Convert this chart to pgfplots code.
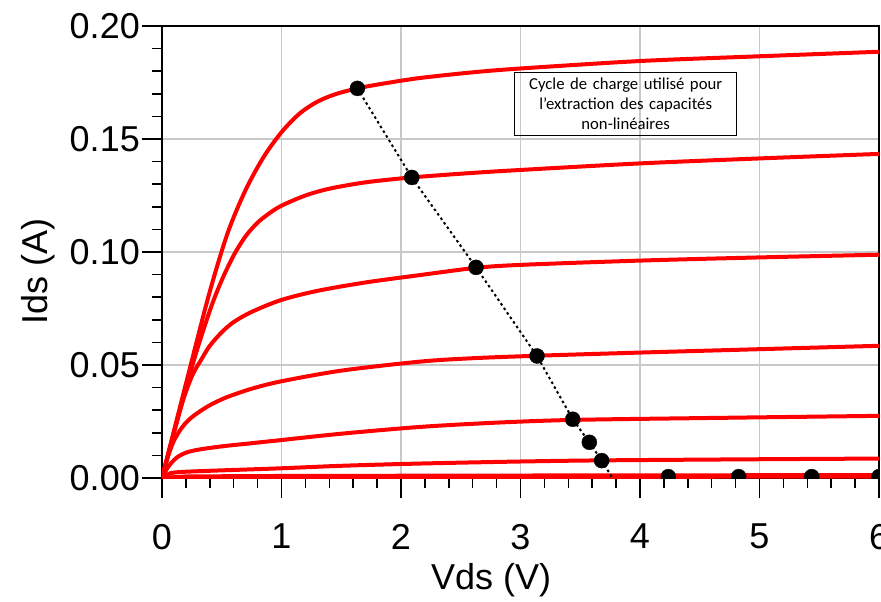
\documentclass[border=0pt]{standalone}
\usepackage{pgfplots}
\pgfplotsset{compat=1.18}
\usepackage{fontspec}
\setmainfont{Liberation Sans}
\newfontfamily\boxfont{Carlito}
\definecolor{gridgray}{RGB}{200,200,200}
\begin{document}
\begin{tikzpicture}
\begin{axis}[
  name=ax,
  scale only axis,
  width=717pt, height=452pt,
  xmin=0, xmax=6, ymin=0, ymax=0.2,
  xtick={0,1,2,3,4,5,6},
  xticklabels={0,1,2,3,4,5,6},
  ytick={0,0.05,0.10,0.15,0.20},
  yticklabels={0.00,0.05,0.10,0.15,0.20},
  minor x tick num=4,
  minor y tick num=4,
  tick align=outside,
  tick pos=left,
  major tick length=20pt,
  minor tick length=10pt,
  every tick/.style={black, line width=1.5pt},
  axis line style={black, line width=1.8pt},
  grid=major,
  major grid style={gridgray, line width=1.5pt},
  tick label style={font=\fontsize{36}{36}\selectfont, inner sep=2pt},
  xticklabel style={yshift=-24pt},
  xlabel={Vds (V)},
  ylabel={Ids (A)},
  label style={font=\fontsize{36}{36}\selectfont},
  xlabel style={at={(axis description cs:0.459,-0.2257)}, anchor=center},
  ylabel style={at={(axis description cs:-0.173,0.456)}, anchor=center, rotate=0},
  clip=true,
]
% thick near-zero curves
\addplot[red, line width=4pt] coordinates {(0,0) (0.2,0.0003) (1,0.0004) (3,0.0005) (6,0.0006)};
\addplot[red, line width=4pt] coordinates {(0,0) (0.2,0.0007) (1,0.0009) (3,0.0011) (6,0.0013)};
% sixth
\addplot[red, line width=4pt, smooth] coordinates {
(0,0) (0.04,0.0014) (0.1,0.0024) (0.3,0.0030) (1,0.0043) (1.5,0.0054) (2.16,0.0064) (3,0.0073) (3.68,0.0078) (5,0.0083) (6,0.0086)};
% fifth
\addplot[red, line width=4pt, smooth] coordinates {
(0,0) (0.04,0.0040) (0.08,0.0068) (0.13,0.0093) (0.2,0.0112) (0.3,0.0125) (0.5,0.0140) (0.75,0.0154) (1.0,0.0168) (1.5,0.0196) (2.16,0.0226) (2.8,0.0245) (3.44,0.0257) (4.5,0.0265) (6,0.0275)};
% fourth
\addplot[red, line width=4pt, smooth] coordinates {
(0,0) (0.05,0.0095) (0.1,0.0165) (0.165,0.0222) (0.22,0.0255) (0.29,0.0285) (0.4,0.0322) (0.54,0.0357) (0.75,0.0395) (1.0,0.0428) (1.5,0.0475) (2.16,0.0515) (2.6,0.0530) (3.14,0.0541) (4,0.0555) (5,0.0570) (6,0.0585)};
% third
\addplot[red, line width=4pt, smooth] coordinates {
(0,0) (0.15,0.0300) (0.25,0.0450) (0.33,0.0525) (0.4,0.0585) (0.5,0.0645) (0.6,0.0690) (0.75,0.0735) (1.0,0.0788) (1.3,0.0828) (1.7,0.0865) (2.16,0.0898) (2.63,0.0930) (3,0.0943) (4,0.0962) (5,0.0976) (6,0.0988)};
% second
\addplot[red, line width=4pt, smooth] coordinates {
(0,0) (0.25,0.0490) (0.4,0.0740) (0.5,0.0875) (0.6,0.0985) (0.7,0.1070) (0.8,0.1130) (0.9,0.1172) (1.0,0.1205) (1.2,0.1250) (1.4,0.1280) (1.7,0.1308) (2.09,0.1330) (2.6,0.1350) (3,0.1363) (4,0.1392) (5,0.1414) (6,0.1434)};
% top
\addplot[red, line width=4pt, smooth] coordinates {
(0,0) (0.25,0.0520) (0.4,0.0825) (0.55,0.1085) (0.7,0.1275) (0.85,0.1420) (1.0,0.1530) (1.15,0.1612) (1.3,0.1665) (1.45,0.1698) (1.635,0.1724) (1.85,0.1745) (2.16,0.1770) (2.6,0.1795) (3,0.1812) (4,0.1845) (5,0.1866) (6,0.1886)};
% load line
\addplot[black, line width=2pt, dash pattern=on 2.5pt off 3pt] coordinates {
(1.635,0.1724) (2.09,0.1330) (2.628,0.0932) (3.138,0.0540) (3.437,0.0260) (3.576,0.0158) (3.679,0.0077) (3.77,0)};
\addplot[only marks, mark=*, mark size=7.5pt, black, clip mode=individual] coordinates {
(1.635,0.1724) (2.09,0.1330) (2.628,0.0932) (3.138,0.0540) (3.437,0.0260) (3.576,0.0158) (3.679,0.0077) (4.237,0.0006) (4.826,0.0006) (5.437,0.0006) (6.0,0.0006)};
\node[draw=black, line width=0.8pt, minimum width=222pt, minimum height=63pt, text width=218pt, align=center, inner sep=0pt,
  font=\boxfont\fontsize{16.7}{20}\selectfont] at (axis cs:3.88,0.1655)
  {Cycle de charge utilisé pour\\l’extraction des capacités\\non-linéaires};
\end{axis}
\pgfresetboundingbox
\path[use as bounding box] ([shift={(-162pt,-123pt)}]ax.south west) rectangle ([shift={(2pt,26pt)}]ax.north east);
\end{tikzpicture}
\end{document}
